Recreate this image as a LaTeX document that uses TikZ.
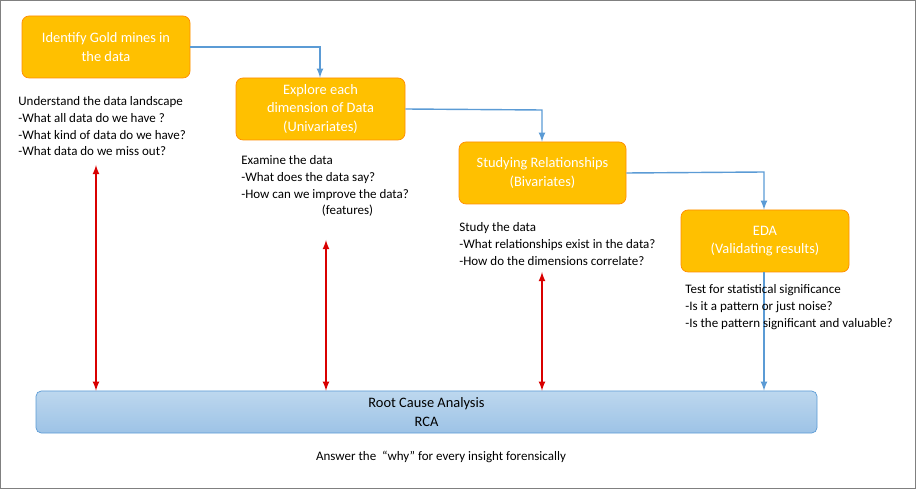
\documentclass[tikz,border=0pt]{standalone}
\usepackage{fontspec}
\setmainfont{Carlito}
\begin{document}
\begin{tikzpicture}[x=0.02cm,y=-0.02cm,
 box/.style={draw=orange!90!yellow,fill={rgb,255:red,255;green,192;blue,0},rounded corners=4pt,text=white,align=center,font=\fontsize{8.2}{10.5}\selectfont},
 txt/.style={anchor=north west,align=left,inner sep=0pt,font=\fontsize{7.4}{9.6}\selectfont},
 flow/.style={draw={rgb,255:red,91;green,155;blue,213},line width=0.8pt,-latex},
 red2/.style={draw=red!85!black,line width=0.8pt,latex-latex}]
\useasboundingbox (0,0) rectangle (916,489);
\draw[gray] (0.5,0.5) rectangle (915.5,488.5);
\node[box,minimum width=168*0.02cm,minimum height=62*0.02cm] (b1) at (106,47) {Identify Gold mines in\\the data};
\node[box,minimum width=169*0.02cm,minimum height=62*0.02cm] (b2) at (320.5,109) {Explore each\\dimension of Data\\(Univariates)};
\node[box,minimum width=167*0.02cm,minimum height=62*0.02cm] (b3) at (542.5,173) {Studying Relationships\\(Bivariates)};
\node[box,minimum width=168*0.02cm,minimum height=62*0.02cm] (b4) at (765,241) {EDA\\(Validating results)};
\node[draw={rgb,255:red,91;green,155;blue,213},top color={rgb,255:red,189;green,215;blue,238},bottom color={rgb,255:red,157;green,195;blue,230},rounded corners=3pt,minimum width=781*0.02cm,minimum height=42*0.02cm,align=center,font=\fontsize{8.2}{10.5}\selectfont] (rca) at (426.5,412) {Root Cause Analysis\\RCA};
\coordinate (c1) at (320,47); \coordinate (c2) at (542,110); \coordinate (c3) at (764,172);
\draw[flow] (b1.east) -- (c1) -- (b2.north-|c1);
\draw[flow] (b2.east) -- (c2) -- (b3.north-|c2);
\draw[flow] (b3.east) -- (c3) -- (b4.north-|c3);
\draw[flow] (b4.south-|c3) -- (rca.north-|c3);
\coordinate (r1) at (96,165); \coordinate (r2) at (326,240); \coordinate (r3) at (542,272);
\draw[red2] (r1) -- (rca.north-|r1);
\draw[red2] (r2) -- (rca.north-|r2);
\draw[red2] (r3) -- (rca.north-|r3);
\node[txt] (t1) at (18,96) {Understand the data landscape\\-What all data do we have ?\\-What kind of data do we have?\\-What data do we miss out?};
\node[txt] (t2) at (241,155) {Examine the data\\-What does the data say?\\-How can we improve the data?\\\hspace{6.2em}(features)};
\node[txt] (t3) at (459,222) {Study the data\\-What relationships exist in the data?\\-How do the dimensions correlate?};
\node[txt] (t4) at (685,284) {Test for statistical significance\\-Is it a pattern or just noise?\\-Is the pattern significant and valuable?};
\node[font=\fontsize{7.4}{9}\selectfont] (t5) at (441,457) {Answer the \ ``why'' for every insight forensically};
\end{tikzpicture}
\end{document}
